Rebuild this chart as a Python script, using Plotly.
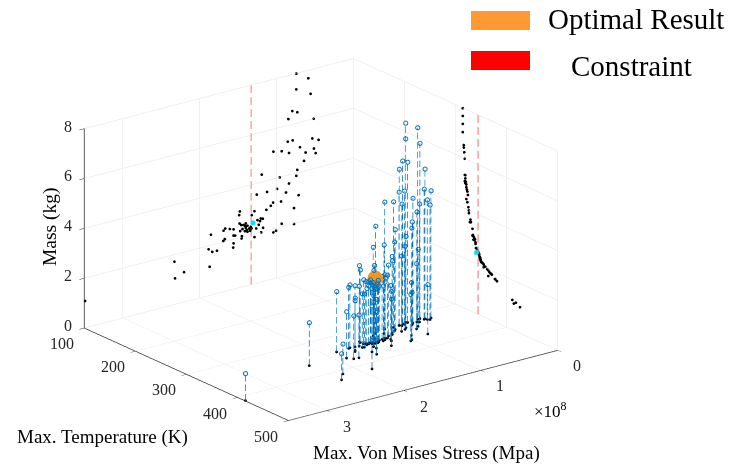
import math
import plotly.graph_objects as go

stress = [0.743,0.587,0.743,0.557,0.795,0.730,0.846,0.518,0.855,0.790,0.535,0.453,0.695,0.514,1.041,0.933,0.838,0.622,0.492,0.643,
          0.730,0.743,1.192,0.959,0.838,0.993,1.123,1.257,0.877,0.713,0.941,1.045,1.075,1.132,0.773,1.287,1.477,1.486,1.322,1.179,
          1.205,1.214,1.231,1.175,1.200,0.933,0.773,1.006,1.041,1.287,1.265,1.313,1.400,1.430,1.378,1.335,1.400,1.356,1.326,1.386,
          1.343,1.378,1.408,1.481,1.460,1.473,1.559,1.607,1.667,1.689,1.853,1.538,1.559,1.451,1.455,1.672,1.693,1.559,1.564,1.883,
          1.836,1.775,1.870,2.328,2.203,2.320,3.490,1.248,1.291,1.443,1.412]
mass = [7.99,7.68,7.36,7.03,6.53,6.43,6.25,6.00,5.35,5.35,5.22,5.10,5.00,4.80,5.10,5.03,4.885,4.73,4.60,4.41,
        4.12,3.89,4.30,4.00,3.66,3.57,3.55,3.55,3.33,3.09,3.02,3.06,2.955,2.84,2.62,2.91,3.05,2.91,2.78,2.52,
        2.55,2.45,2.32,2.155,1.99,2.12,1.98,1.90,1.86,1.87,2.20,2.44,2.51,2.47,2.40,2.32,2.33,2.27,2.25,2.23,
        2.17,2.16,2.41,2.57,2.49,2.26,2.40,2.45,2.52,2.45,2.42,2.13,2.15,2.04,1.95,2.10,2.04,1.84,1.67,1.86,
        1.72,1.715,1.15,1.72,1.20,1.045,1.08,2.52,2.45,2.32,2.21]
temp = [314,314,314,314,316,316,317,318,318,319,319,320,321,322,318,319,321,323,324,321,
        325,326,323,326,329,330,329,328,333,334,336,333,338,339,340,335,334,337,339,344,
        343,345,347,350,355,354,362,366,369,368,349,346,344,345,346,348,347,348,349,349,
        350,350,346,343,344,348,346,345,344,345,346,353,352,358,364,355,358,371,381,370,
        377,378,418,364,411,426,414,344,345,347,349]

optimal_stress = 1.326
optimal_temp = 342
optimal_mass = 2.5
limit_stress = 1.33
limit_temp = 344
x_range = [0, 3.5]
y_range = [100, 500]
z_range = [0, 8]
x_ticks = [0, 1, 2, 3]
y_ticks = [100, 200, 300, 400, 500]
z_ticks = [0, 2, 4, 6, 8]

BLUE = "#0072BD"
RED = "#FF7878"
SERIF = "Liberation Serif"
INK = "#262626"


def dashed(x, y, top, on, off):
    """Vertical dashed line as separate segments, so the dash length is fixed."""
    xs, ys, zs = [], [], []
    z = 0.0
    while z < top:
        xs += [x, x, None]
        ys += [y, y, None]
        zs += [z, min(z + on, top), None]
        z += on + off
    return xs, ys, zs


stem_x, stem_y, stem_z = [], [], []
for s, t, m in zip(stress, temp, mass):
    a, b, c = dashed(s, t, m, 0.26, 0.12)
    stem_x += a
    stem_y += b
    stem_z += c

fig = go.Figure()
fig.add_trace(go.Scatter3d(x=stem_x, y=stem_y, z=stem_z, mode="lines", line=dict(color=BLUE, width=1.4)))
fig.add_trace(go.Scatter3d(x=stress, y=temp, z=mass, mode="markers",
                           marker=dict(symbol="circle-open", size=2.6, color=BLUE, line=dict(color=BLUE, width=1))))
dot = dict(symbol="circle", size=1.6, color="black")
fig.add_trace(go.Scatter3d(x=stress, y=temp, z=[0] * len(mass), mode="markers", marker=dot))
fig.add_trace(go.Scatter3d(x=stress, y=[y_range[0]] * len(mass), z=mass, mode="markers", marker=dot))
fig.add_trace(go.Scatter3d(x=[x_range[0]] * len(mass), y=temp, z=mass, mode="markers", marker=dot))
a, b, c = dashed(limit_stress, y_range[0], z_range[1], 0.32, 0.16)
fig.add_trace(go.Scatter3d(x=a, y=b, z=c, mode="lines", line=dict(color=RED, width=2)))
a, b, c = dashed(x_range[0], limit_temp, z_range[1], 0.32, 0.16)
fig.add_trace(go.Scatter3d(x=a, y=b, z=c, mode="lines", line=dict(color=RED, width=2.4)))
# the wall copies of the optimum sit a hair in front of the black wall dots
fig.add_trace(go.Scatter3d(x=[optimal_stress, x_range[0] + 0.02], y=[y_range[0] + 3, limit_temp], z=[optimal_mass] * 2,
                           mode="markers", marker=dict(symbol="circle", size=3, color="#00E5F0")))
fig.add_trace(go.Scatter3d(x=[optimal_stress], y=[optimal_temp], z=[optimal_mass], mode="markers",
                           marker=dict(symbol="circle", size=9, color="#F7941E")))


def axis(rng, ticks):
    return dict(range=rng, tickmode="array", tickvals=ticks, showticklabels=False,
                title=dict(text=""), showbackground=False, showgrid=True, gridcolor="#e4e4e4", gridwidth=1,
                zeroline=False, showline=True, linecolor=INK, linewidth=1.5, ticks="outside",
                ticklen=6, tickcolor=INK, showspikes=False)


def tick_note(x, y, z, text, dx, dy):
    return dict(x=x, y=y, z=z, text=text, showarrow=False, xanchor="center", yanchor="middle",
                xshift=dx, yshift=dy, font=dict(family=SERIF, size=16, color=INK))


tick_notes = [tick_note(v, y_range[1], 0, str(v), 20, -15) for v in x_ticks]
tick_notes += [tick_note(x_range[1], v, 0, str(v), -22, -15) for v in y_ticks]
tick_notes += [tick_note(x_range[1], y_range[0], v, str(v), -16, 3) for v in z_ticks]

phi = math.radians(52.8)
theta = math.radians(20.1)
dist = 2.0
fig.update_layout(
    width=729, height=466, showlegend=False, paper_bgcolor="white",
    margin=dict(l=0, r=0, t=0, b=0),
    scene=dict(
        domain=dict(x=[0, 0.88], y=[0.005, 0.965]),
        xaxis=axis(x_range, x_ticks), yaxis=axis(y_range, y_ticks), zaxis=axis(z_range, z_ticks),
        aspectmode="manual", aspectratio=dict(x=1.512, y=1.512, z=0.95),
        annotations=tick_notes,
        camera=dict(projection=dict(type="orthographic"),
                    eye=dict(x=dist * math.cos(theta) * math.cos(phi),
                             y=dist * math.cos(theta) * math.sin(phi),
                             z=dist * math.sin(theta)),
                    center=dict(x=0, y=0, z=0), up=dict(x=0, y=0, z=1)),
    ),
    shapes=[
        dict(type="rect", xref="paper", yref="paper", x0=471/729, x1=530/729, y0=1-30/466, y1=1-11/466,
             fillcolor="#FF9933", line=dict(width=0)),
        dict(type="rect", xref="paper", yref="paper", x0=471/729, x1=530/729, y0=1-70/466, y1=1-51/466,
             fillcolor="#FF0000", line=dict(width=0)),
    ],
)


def note(text, px, py, size, angle=0):
    fig.add_annotation(text=text, xref="paper", yref="paper", x=px/729, y=1-py/466, showarrow=False,
                       xanchor="center", yanchor="middle", textangle=angle,
                       font=dict(family=SERIF, size=size, color="black"))


note("Optimal Result", 636, 19, 29)
note("Constraint", 631, 66, 29)
note("Max. Temperature (K)", 102, 437, 19)
note("Max. Von Mises Stress (Mpa)", 426, 453, 19)
note("Mass (kg)", 50, 227, 19.5, -90)
note("×10<sup>8</sup>", 550, 410, 17)

fig.write_html("out.html", post_script="document.body.style.margin='0';",
               config=dict(displayModeBar=False))
